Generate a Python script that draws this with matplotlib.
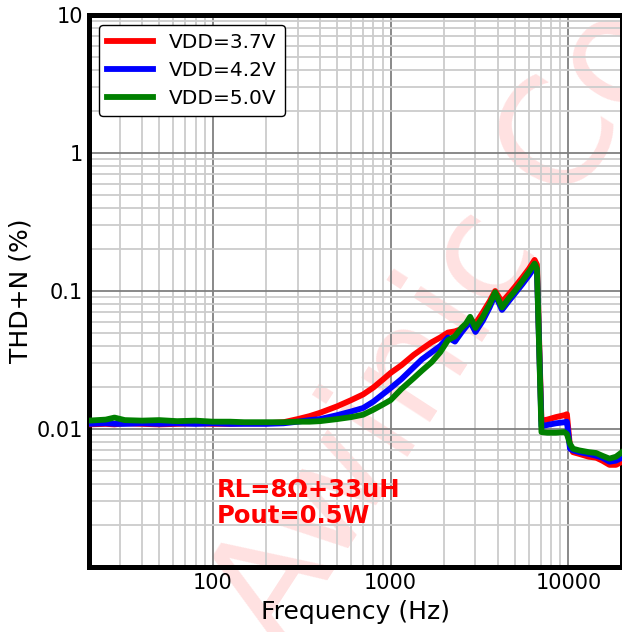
import matplotlib
matplotlib.use("Agg")
import matplotlib.pyplot as plt

freq = [20, 25, 28, 32, 40, 50, 63, 80, 100, 125, 150, 200, 250, 300, 350, 400,
        500, 600, 700, 800, 900, 1000, 1150, 1350, 1500, 1700, 1900, 2100, 2300,
        2500, 2650, 2800, 3000, 3300, 3600, 3870, 4230, 4600, 5000, 5500, 6000,
        6450, 6650, 7050, 7600, 8500, 9500, 9800, 10200, 10600, 11500, 13000,
        14300, 15500, 17000, 18500, 20000]

thd_37 = [0.0108, 0.0109, 0.0108, 0.0110, 0.0109, 0.0108, 0.0109, 0.0110, 0.0109,
          0.0109, 0.0110, 0.0110, 0.0112, 0.0118, 0.0124, 0.0131, 0.0146, 0.0162,
          0.0178, 0.0200, 0.0227, 0.0255, 0.0290, 0.0345, 0.0380, 0.0425, 0.0460,
          0.0500, 0.0510, 0.0530, 0.0570, 0.0620, 0.0580, 0.0700, 0.0840, 0.1000,
          0.0830, 0.0940, 0.1070, 0.1250, 0.1450, 0.1680, 0.1550, 0.0115, 0.0117,
          0.0122, 0.0126, 0.0128, 0.0075, 0.0068, 0.0066, 0.0063, 0.0062, 0.0059,
          0.0055, 0.0055, 0.0058]

thd_42 = [0.0109, 0.0110, 0.0109, 0.0109, 0.0110, 0.0109, 0.0110, 0.0109, 0.0110,
          0.0109, 0.0109, 0.0109, 0.0110, 0.0113, 0.0116, 0.0118, 0.0126, 0.0134,
          0.0142, 0.0158, 0.0178, 0.0198, 0.0230, 0.0281, 0.0320, 0.0360, 0.0400,
          0.0460, 0.0430, 0.0500, 0.0550, 0.0600, 0.0505, 0.0610, 0.0760, 0.0940,
          0.0730, 0.0840, 0.0960, 0.1120, 0.1300, 0.1490, 0.1400, 0.0105, 0.0107,
          0.0110, 0.0112, 0.0113, 0.0072, 0.0070, 0.0068, 0.0066, 0.0064, 0.0062,
          0.0058, 0.0059, 0.0062]

thd_50 = [0.0115, 0.0117, 0.0121, 0.0116, 0.0115, 0.0116, 0.0114, 0.0115, 0.0113,
          0.0113, 0.0112, 0.0112, 0.0112, 0.0113, 0.0113, 0.0114, 0.0118, 0.0122,
          0.0127, 0.0138, 0.0150, 0.0162, 0.0195, 0.0234, 0.0265, 0.0305, 0.0360,
          0.0440, 0.0470, 0.0540, 0.0580, 0.0650, 0.0540, 0.0650, 0.0800, 0.0980,
          0.0760, 0.0880, 0.1000, 0.1180, 0.1380, 0.1580, 0.1450, 0.0095, 0.0094,
          0.0094, 0.0095, 0.0092, 0.0078, 0.0072, 0.0070, 0.0068, 0.0067, 0.0064,
          0.0061, 0.0063, 0.0068]

labels = ["VDD=3.7V", "VDD=4.2V", "VDD=5.0V"]
colors = ["#ff0000", "#0000ff", "#008000"]

x_ticks = [100, 1000, 10000]
x_ticklabels = ["100", "1000", "10000"]
y_ticks = [0.01, 0.1, 1, 10]
y_ticklabels = ["0.01", "0.1", "1", "10"]

fig = plt.figure(figsize=(6.22, 6.32), dpi=100)
ax = fig.add_axes([0.1423, 0.1028, 0.8577, 0.8735])

for y, lab, c in zip([thd_37, thd_42, thd_50], labels, colors):
    ax.plot(freq, y, color=c, lw=4.2, label=lab, zorder=3)

ax.set_xscale("log")
ax.set_yscale("log")
ax.set_xlim(20, 20000)
ax.set_ylim(0.001, 10)

ax.set_xticks(x_ticks)
ax.set_xticklabels(x_ticklabels)
ax.set_yticks(y_ticks)
ax.set_yticklabels(y_ticklabels)
ax.tick_params(axis="both", which="both", length=0, labelsize=15, pad=4)

ax.grid(True, which="major", color="#808080", lw=1.3)
ax.grid(True, which="minor", color="#cccccc", lw=1.3)

for s in ax.spines.values():
    s.set_linewidth(3.6)
    s.set_color("black")

ax.set_xlabel("Frequency (Hz)", fontsize=18, labelpad=5)
ax.set_ylabel("THD+N (%)", fontsize=18, labelpad=3)

ax.text(105, 0.0029, "RL=8\u03a9+33uH\nPout=0.5W", color="red", fontsize=17.5,
        fontweight="bold", va="center", ha="left", linespacing=1.1, zorder=4)

leg = ax.legend(loc="upper left", fontsize=14.5, frameon=True, fancybox=True,
                edgecolor="black", framealpha=1, handlelength=2.3,
                handletextpad=0.8, labelspacing=0.45, borderaxespad=0.5)
leg.get_frame().set_linewidth(1.0)
leg.set_zorder(5)

ax.text(0.452, -0.031, "Awinic Confidential", transform=fig.transFigure,
        rotation=57, rotation_mode="anchor", ha="left", va="baseline",
        fontsize=108, color="red", alpha=0.12, clip_on=False, zorder=1)

fig.savefig("out.png", dpi=100)
